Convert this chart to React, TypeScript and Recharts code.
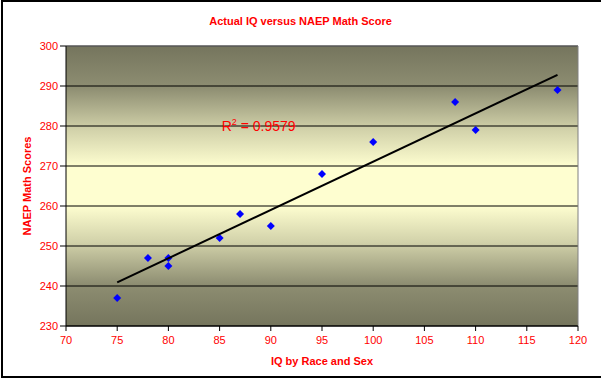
import {
  ScatterChart,
  Scatter,
  XAxis,
  YAxis,
  CartesianGrid,
  ReferenceLine,
  ReferenceDot,
  Label,
} from "recharts";

const iq = [75, 78, 80, 80, 85, 87, 90, 95, 100, 108, 110, 118];
const naep = [237, 247, 247, 245, 252, 258, 255, 268, 276, 286, 279, 289];
const trendIq = [75, 118];
const trendScore = [240.9, 292.8];
const xTicks = [70, 75, 80, 85, 90, 95, 100, 105, 110, 115, 120];
const yTicks = [230, 240, 250, 260, 270, 280, 290, 300];

const points = iq.map((x, i) => ({ x, y: naep[i] }));
const trend = trendIq.map((x, i) => ({ x, y: trendScore[i] }));

const FONT = "'Liberation Sans', Arial, sans-serif";
const RED = "#ff0000";

const Diamond = (props: any) => {
  const { cx, cy } = props;
  const s = 4;
  return (
    <polygon
      points={`${cx},${cy - s} ${cx + s},${cy} ${cx},${cy + s} ${cx - s},${cy}`}
      fill="#0000ff"
    />
  );
};

export default function App() {
  return (
    <div
      style={{
        position: "absolute",
        left: 0,
        top: 0,
        width: 601,
        height: 378,
        background: "#fff",
        fontFamily: FONT,
        overflow: "hidden",
      }}
    >
      <div
        style={{
          position: "absolute",
          left: 1,
          top: 0,
          width: 610,
          height: 378,
          border: "2px solid #000",
          boxSizing: "border-box",
        }}
      />
      <div
        style={{
          position: "absolute",
          left: 0,
          width: 601,
          top: 15,
          textAlign: "center",
          color: RED,
          fontWeight: "bold",
          fontSize: 11,
        }}
      >
        Actual IQ versus NAEP Math Score
      </div>
      <ScatterChart
        width={601}
        height={378}
        margin={{ top: 46, right: 23, bottom: 0, left: 0 }}
        style={{ position: "absolute", left: 0, top: 0 }}
      >
        <defs>
          <linearGradient id="bg" x1="0" y1="0" x2="0" y2="1">
            <stop offset="0" stopColor="#75755d" />
            <stop offset="0.15" stopColor="#8e8e72" />
            <stop offset="0.3" stopColor="#d2d2aa" />
            <stop offset="0.43" stopColor="#fefed0" />
            <stop offset="0.57" stopColor="#fefed0" />
            <stop offset="0.7" stopColor="#d2d2aa" />
            <stop offset="0.85" stopColor="#8e8e72" />
            <stop offset="1" stopColor="#75755d" />
          </linearGradient>
        </defs>
        <CartesianGrid
          vertical={false}
          stroke="#000"
          strokeOpacity={1}
          fill="url(#bg)"
          fillOpacity={1}
        />
        <XAxis
          type="number"
          dataKey="x"
          domain={[70, 120]}
          ticks={xTicks}
          height={52}
          axisLine={{ stroke: "#000" }}
          tickLine={{ stroke: "#000" }}
          tickSize={5}
          tickMargin={5}
          tick={{ fill: RED, fontSize: 11, fontFamily: FONT }}
        >
          <Label
            content={({ viewBox }: any) => (
              <text
                x={viewBox.x + viewBox.width / 2}
                y={362}
                textAnchor="middle"
                dominantBaseline="middle"
                fill={RED}
                fontWeight="bold"
                fontSize={11}
                fontFamily={FONT}
              >
                IQ by Race and Sex
              </text>
            )}
          />
        </XAxis>
        <YAxis
          type="number"
          dataKey="y"
          domain={[230, 300]}
          ticks={yTicks}
          width={66}
          axisLine={{ stroke: "#000" }}
          tickLine={{ stroke: "#000" }}
          tickSize={6}
          tickMargin={2}
          tick={{ fill: RED, fontSize: 11, fontFamily: FONT }}
        >
          <Label
            content={({ viewBox }: any) => {
              const x = 28;
              const y = viewBox.y + viewBox.height / 2;
              return (
                <text
                  x={x}
                  y={y}
                  transform={`rotate(-90 ${x} ${y})`}
                  textAnchor="middle"
                  dominantBaseline="middle"
                  fill={RED}
                  fontWeight="bold"
                  fontSize={11}
                  fontFamily={FONT}
                >
                  NAEP Math Scores
                </text>
              );
            }}
          />
        </YAxis>
        <ReferenceLine y={300} stroke="#808080" strokeWidth={1} />
        <ReferenceLine x={120} stroke="#808080" strokeWidth={1} />
        <Scatter
          data={points}
          shape={Diamond}
          isAnimationActive={false}
        />
        <Scatter
          data={trend}
          line={{ stroke: "#000", strokeWidth: 2 }}
          shape={() => <g />}
          isAnimationActive={false}
        />
        <ReferenceDot
          x={85.2}
          y={280}
          r={0}
          fill="none"
          stroke="none"
          label={{
            content: ({ viewBox }: any) => (
              <text
                x={viewBox.x}
                y={viewBox.y + 5}
                fill={RED}
                fontSize={14}
                fontFamily={FONT}
              >
                R
                <tspan dy={-6} fontSize={9}>
                  2
                </tspan>
                <tspan dy={6}> = 0.9579</tspan>
              </text>
            ),
          }}
        />
      </ScatterChart>
    </div>
  );
}
